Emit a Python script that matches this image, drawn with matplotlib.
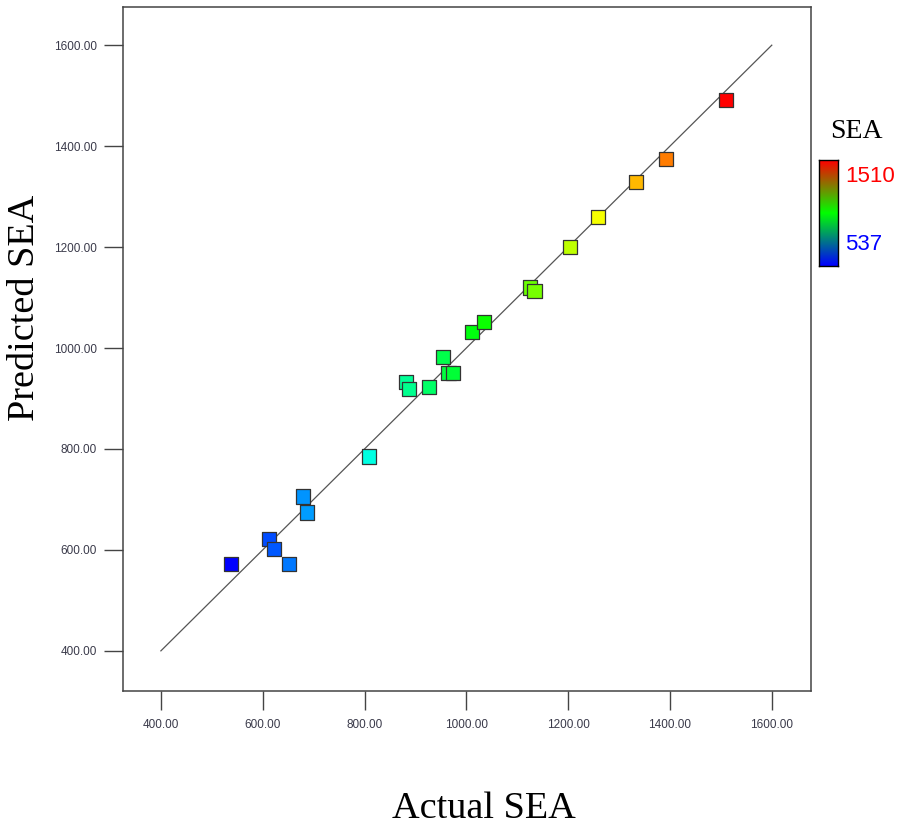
import numpy as np
import matplotlib
matplotlib.use("Agg")
import matplotlib.pyplot as plt
from matplotlib import colors as mcolors
from matplotlib import font_manager
from matplotlib.colors import ListedColormap, LinearSegmentedColormap

# Data (actual vs predicted SEA)
actual = [537, 613, 622, 652, 679, 687, 809, 882, 888, 926, 954, 965, 974,
          1011, 1034, 1125, 1134, 1203, 1259, 1333, 1392, 1510]
predicted = [572, 622, 602, 572, 706, 674, 785, 933, 919, 923, 982, 951, 951,
             1031, 1052, 1120, 1113, 1200, 1259, 1329, 1374, 1491]
ticks = [400, 600, 800, 1000, 1200, 1400, 1600]
sea_min, sea_max = 537, 1510

# narrow sans if it is there, plain Liberation Sans otherwise
names = {f.name for f in font_manager.fontManager.ttflist}
if "Liberation Sans Narrow" in names:
    narrow, tick_size, leg_size = "Liberation Sans Narrow", 10, 19
else:
    narrow, tick_size, leg_size = "Liberation Sans", 8.5, 16

# hue ramp blue -> cyan -> green -> yellow -> red for the points
hues = np.linspace(240 / 360, 0, 256)
hsv = np.stack([hues, np.ones(256), np.ones(256)], axis=1)
point_cmap = ListedColormap(mcolors.hsv_to_rgb(hsv))
# legend bar is a plain rgb blend blue -> green -> red
bar_cmap = LinearSegmentedColormap.from_list("bar", ["#0000ff", "#00ff00", "#ff0000"])

fig = plt.figure(figsize=(8.97, 8.32), dpi=100)
ax = fig.add_axes([0.1368, 0.1698, 0.7673, 0.8214])

ax.plot([400, 1600], [400, 1600], color="#555555", lw=0.9, zorder=1)
ax.scatter(actual, predicted, c=actual, cmap=point_cmap, vmin=sea_min, vmax=sea_max,
           marker="s", s=105, edgecolors="#333333", linewidths=0.9, zorder=2)

ax.set_xlim(325, 1677)
ax.set_ylim(321, 1675)
ax.set_xticks(ticks)
ax.set_yticks(ticks)
ax.set_xticklabels([f"{t:.2f}" for t in ticks])
ax.set_yticklabels([f"{t:.2f}" for t in ticks])
ax.tick_params(direction="out", length=13.5, width=1.0, color="#444444",
               labelsize=tick_size, labelcolor="#3a3a4a", pad=5)
ax.tick_params(axis="x", pad=7)
for lab in ax.get_xticklabels() + ax.get_yticklabels():
    lab.set_fontfamily(narrow)
for s in ax.spines.values():
    s.set_color("#444444")
    s.set_linewidth(1.1)

fig.text(25 / 897, 1 - 308 / 832, "Predicted SEA", rotation=90, ha="center", va="center",
         fontsize=27.5, family="Liberation Serif")
fig.text(484 / 897, 1 - 809 / 832, "Actual SEA", ha="center", va="center",
         fontsize=27.5, family="Liberation Serif")

# small colour legend on the right
cax = fig.add_axes([819 / 897, 1 - 266 / 832, 19 / 897, 106 / 832])
grad = np.linspace(0, 1, 200).reshape(-1, 1)
cax.imshow(grad, aspect="auto", cmap=bar_cmap, origin="lower")
cax.set_xticks([])
cax.set_yticks([])
for s in cax.spines.values():
    s.set_linewidth(1.0)
    s.set_color("black")

fig.text(856 / 897, 1 - 132 / 832, "SEA", ha="center", va="center",
         fontsize=20, family="Liberation Serif")
fig.text(845 / 897, 1 - 177 / 832, str(sea_max), ha="left", va="center",
         fontsize=leg_size, color="#ff0000", family=narrow)
fig.text(845 / 897, 1 - 245 / 832, str(sea_min), ha="left", va="center",
         fontsize=leg_size, color="#0000ff", family=narrow)

fig.savefig("out.png", dpi=100, facecolor="white")
